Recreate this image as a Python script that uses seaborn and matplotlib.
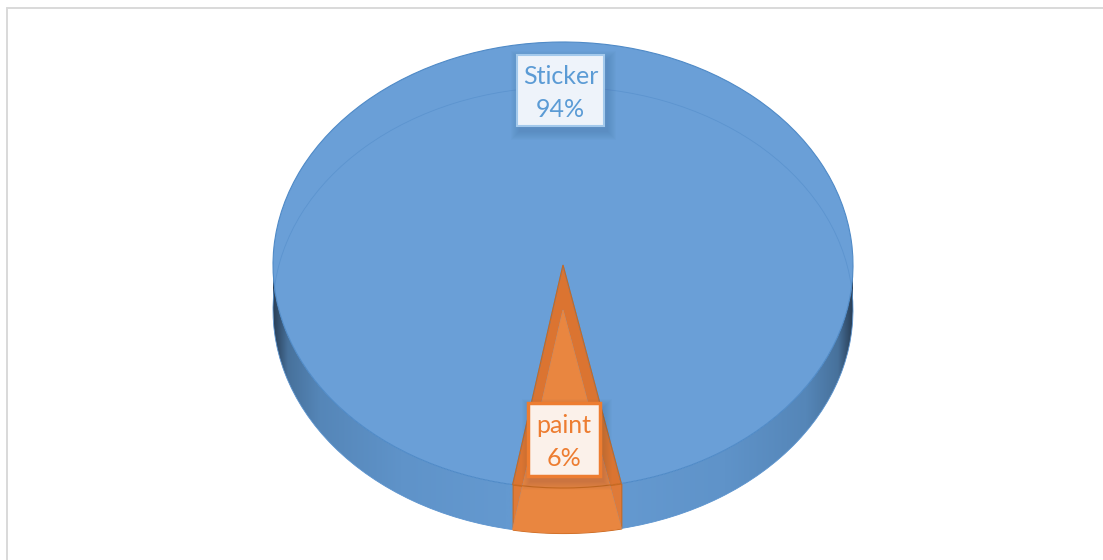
import numpy as np
import matplotlib
matplotlib.use("Agg")
import matplotlib.pyplot as plt
from matplotlib.colors import to_rgba_array
from matplotlib.lines import Line2D
from matplotlib.patches import Rectangle
from matplotlib.transforms import Affine2D
import seaborn as sns

categories = ["Sticker", "paint"]
shares = [94, 6]

sns.set_theme(style="white")
plt.rcParams["font.family"] = ["Lato", "DejaVu Sans"]

WIDTH, HEIGHT = 1103, 560
CX, RX, RY = 563, 290, 223
TOP_CY, BASE_CY = 265, 310
TILT = -0.8  # the small slice sits just right of straight down

BLUE_FACE = "#6a9fd7"
BLUE_RIM = "#5c94cf"
BLUE_EDGE = "#4f8ac7"
ORANGE_LIGHT = "#e98640"
ORANGE_DARK = "#db7431"
ORANGE_WALL = "#df7a38"
ORANGE_EDGE = "#c96920"
TEXT_COLORS = ["#5b9bd5", "#ed7d31"]
BOX_FILLS = ["#eef3fa", "#fbf1ea"]
BOX_EDGES = ["#a3c9ec", "#ed7d31"]
BOX_WIDTHS = [1.5, 2.5]
BOXES = [(517, 55, 87, 71), (528, 403, 72, 73)]

fig = plt.figure(figsize=(WIDTH / 100, HEIGHT / 100), dpi=100, facecolor="white")
ax = fig.add_axes([0, 0, 1, 1])

half_deg = shares[1] / sum(shares) * 180


def elliptical_pie(cy, facecolors, edgecolors, zorders, linewidth=1.0):
    """Draw the shares as a pie squashed vertically about its own centre."""
    wedges, _ = ax.pie(shares, startangle=90 + TILT + half_deg, radius=RX,
                       center=(CX, cy), colors=facecolors, frame=True)
    squash = Affine2D().translate(0, -cy).scale(1, RY / RX).translate(0, cy)
    for wedge, face, edge, z in zip(wedges, facecolors, edgecolors, zorders):
        wedge.set_transform(squash + ax.transData)
        wedge.set_facecolor(face)
        wedge.set_edgecolor(edge)
        wedge.set_linewidth(linewidth)
        wedge.set_zorder(z)
    return wedges


def rim(x, cy):
    return cy + RY * np.sqrt(np.clip(1 - ((x - CX) / RX) ** 2, 0, 1))


# Side wall with its shaded horizontal gradient
xs = np.linspace(CX - RX, CX + RX, 800)
wall = ax.fill_between(xs, rim(xs, TOP_CY), rim(xs, BASE_CY), color="none", zorder=1)
stops = np.array([0.0, 0.025, 0.08, 0.22, 0.40, 0.5])
anchors = to_rgba_array(["#2a3f57", "#47719b", "#5586b8", "#5f93c9", "#6499d0", "#6499d0"])[:, :3]
u = 0.5 - np.abs(np.linspace(-0.5, 0.5, 600))
row = np.stack([np.interp(u, stops, anchors[:, i]) for i in range(3)], axis=-1)[None, :, :]
grad = ax.imshow(row, extent=(CX - RX, CX + RX, HEIGHT, 0), aspect="auto", zorder=1.5)
grad.set_clip_path(wall.get_paths()[0], transform=ax.transData)

# Front wall of the smaller slice
half = np.deg2rad(half_deg)
tilt = np.deg2rad(-TILT)
xw = np.linspace(CX + RX * np.sin(tilt - half), CX + RX * np.sin(tilt + half), 120)
ax.fill_between(xw, rim(xw, TOP_CY), rim(xw, BASE_CY), facecolor=ORANGE_WALL,
                edgecolor=ORANGE_EDGE, linewidth=0.8, zorder=2)

# Top face, then the base seen through it, then the top outline
elliptical_pie(TOP_CY, [BLUE_FACE, ORANGE_DARK], ["none", "none"], [3, 3])
elliptical_pie(BASE_CY, ["none", ORANGE_LIGHT], [BLUE_RIM, ORANGE_LIGHT], [3.5, 4], linewidth=0.6)
elliptical_pie(TOP_CY, ["none", "none"], [BLUE_EDGE, ORANGE_EDGE], [5, 5], linewidth=0.8)

ax.set_aspect("auto")
ax.set_xlim(0, WIDTH)
ax.set_ylim(HEIGHT, 0)
ax.axis("off")

# Data labels on soft-shadowed boxes
for name, share, (x, y, w, h), tc, fc, ec, lw in zip(categories, shares, BOXES, TEXT_COLORS,
                                                      BOX_FILLS, BOX_EDGES, BOX_WIDTHS):
    for grow in range(9, 0, -1):
        ax.add_patch(Rectangle((x + 3 - grow, y + 5 - grow), w + 2 * grow, h + 2 * grow,
                               facecolor="#1f3550", edgecolor="none", alpha=0.014, zorder=6))
    ax.add_patch(Rectangle((x, y), w, h, facecolor=fc, edgecolor=ec, linewidth=lw, zorder=7))
    ax.text(x + w / 2, y + h * 0.29 + 1, name, color=tc, fontsize=18, ha="center", va="center", zorder=8)
    ax.text(x + w / 2, y + h * 0.75 + 1, f"{share}%", color=tc, fontsize=18, ha="center", va="center", zorder=8)

# Thin grey frame along the top and left of the chart area
for xdata, ydata in [((7 / WIDTH, 1), (1 - 7.5 / HEIGHT, 1 - 7.5 / HEIGHT)),
                     ((7 / WIDTH, 7 / WIDTH), (0, 1 - 7.5 / HEIGHT))]:
    fig.add_artist(Line2D(xdata, ydata, color="#d9d9d9", linewidth=1.4))

fig.savefig("out.png", dpi=100, facecolor="white")
